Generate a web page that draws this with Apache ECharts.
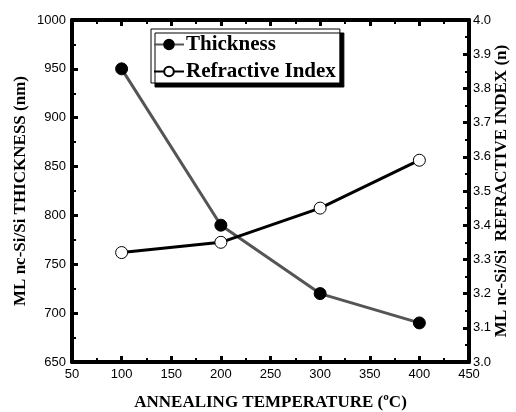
<!DOCTYPE html>
<html><head><meta charset="utf-8">
<script src="https://cdn.jsdelivr.net/npm/echarts@6/dist/echarts.min.js"></script>
<style>html,body{margin:0;padding:0;background:#fff}#c{width:516px;height:412px}</style>
</head><body><div id="c"></div>
<script>
const temperatures = [100, 200, 300, 400];
const thickness = [950, 790, 720, 690];
const refractiveIndex = [3.32, 3.35, 3.45, 3.59];
const xTitle = 'ANNEALING TEMPERATURE (\u00BAC)';
const yLeftTitle = 'ML nc-Si/Si THICKNESS (nm)';
const yRightTitle = 'ML nc-Si/Si  REFRACTIVE INDEX (n)';

const serif = '"Liberation Serif", "Times New Roman", serif';
const sans = '"Liberation Sans", Arial, sans-serif';
function axLine() { return {show: true, onZero: false, lineStyle: {color: '#000', width: 4}}; }
function axTick() { return {show: true, inside: true, length: 6, lineStyle: {color: '#000', width: 3}}; }
function axMinor() { return {show: true, splitNumber: 2, length: 4, lineStyle: {color: '#000', width: 2}}; }
function titleStyle() { return {fontFamily: serif, fontWeight: 'bold', fontSize: 17, color: '#000'}; }

const chart = echarts.init(document.getElementById('c'));
chart.setOption({
  animation: false,
  grid: {left: 72, right: 47, top: 20, bottom: 50, containLabel: false, outerBoundsMode: 'none'},
  legend: {
    orient: 'vertical', left: 151, top: 29,
    padding: [5, 4, 1, 2], itemGap: 6, itemWidth: 30, itemHeight: 12,
    backgroundColor: '#fff', borderColor: '#000', borderWidth: 1,
    shadowColor: '#000', shadowBlur: 0, shadowOffsetX: 4, shadowOffsetY: 4,
    textStyle: {fontFamily: serif, fontWeight: 'bold', fontSize: 21, color: '#000', padding: [0, 0, 0, -3]},
    data: ['Thickness', 'Refractive Index']
  },
  xAxis: [
    {type: 'value', min: 50, max: 450, interval: 50, position: 'bottom',
     name: xTitle, nameLocation: 'middle', nameGap: 32,
     nameTextStyle: titleStyle(),
     axisLine: axLine(), axisTick: axTick(), minorTick: axMinor(), splitLine: {show: false},
     axisLabel: {fontFamily: sans, fontSize: 13, color: '#000', margin: 6}},
    {type: 'value', min: 50, max: 450, interval: 50, position: 'top',
     axisLine: axLine(), axisTick: axTick(), minorTick: axMinor(), splitLine: {show: false},
     axisLabel: {show: false}}
  ],
  yAxis: [
    {type: 'value', min: 650, max: 1000, interval: 50, position: 'left',
     name: yLeftTitle, nameLocation: 'middle', nameGap: 43, nameRotate: 90, nameMoveOverlap: false,
     nameTextStyle: titleStyle(),
     axisLine: axLine(), axisTick: axTick(), minorTick: axMinor(), splitLine: {show: false},
     axisLabel: {fontFamily: sans, fontSize: 13, color: '#000', margin: 6, formatter: v => String(v)}},
    {type: 'value', min: 3.0, max: 4.0, interval: 0.1, position: 'right',
     name: yRightTitle, nameLocation: 'middle', nameGap: 24, nameRotate: 90, nameMoveOverlap: false,
     nameTextStyle: titleStyle(),
     axisLine: axLine(), axisTick: axTick(), minorTick: axMinor(), splitLine: {show: false},
     axisLabel: {fontFamily: sans, fontSize: 13, color: '#000', margin: 4,
                 formatter: v => v.toFixed(1)}}
  ],
  series: [
    {name: 'Thickness', type: 'line', xAxisIndex: 0, yAxisIndex: 0,
     data: temperatures.map((t, i) => [t, thickness[i]]),
     symbol: 'circle', symbolSize: 12,
     lineStyle: {color: '#555', width: 3},
     itemStyle: {color: '#000', borderColor: '#000', borderWidth: 1}},
    {name: 'Refractive Index', type: 'line', xAxisIndex: 0, yAxisIndex: 1,
     data: temperatures.map((t, i) => [t, refractiveIndex[i]]),
     symbol: 'circle', symbolSize: 12,
     lineStyle: {color: '#000', width: 3},
     itemStyle: {color: '#fff', borderColor: '#000', borderWidth: 1}}
  ]
});
</script></body></html>
